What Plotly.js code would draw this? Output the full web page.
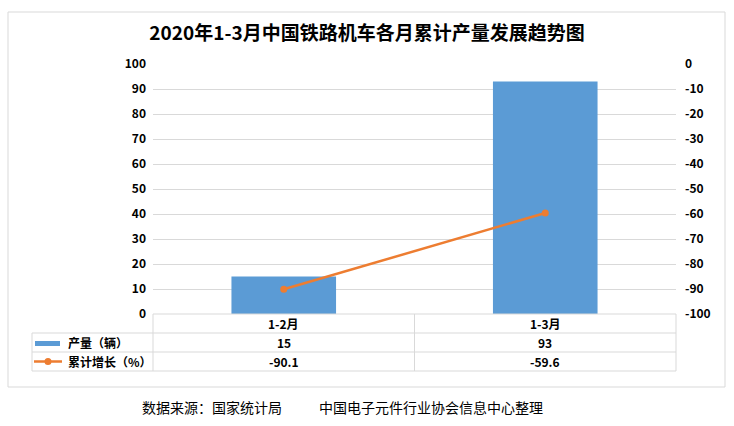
<!DOCTYPE html>
<html>
<head>
<meta charset="utf-8">
<script src="https://cdn.plot.ly/plotly-3.0.1.min.js"></script>
<style>
html,body{margin:0;padding:0;background:#fff;}
#chart{width:734px;height:426px;}
</style>
</head>
<body>
<div id="chart"></div>
<script>
const categories = ['1-2月', '1-3月'];
const outputValues = [15, 93];
const growthValues = [-90.1, -59.6];
const seriesNames = ['产量（辆）', '累计增长（%）'];
const leftTicks = [0, 10, 20, 30, 40, 50, 60, 70, 80, 90, 100];
const rightTicks = [0, -10, -20, -30, -40, -50, -60, -70, -80, -90, -100];
const chartTitle = '2020年1-3月中国铁路机车各月累计产量发展趋势图';
const footerSource = '数据来源：国家统计局';
const footerCredit = '中国电子元件行业协会信息中心整理';

const W = 734, H = 426;
const px = x => x / W;
const py = y => 1 - y / H;
const FONT = '"Noto Sans CJK SC", "Noto Sans", sans-serif';
const GRID = '#d9d9d9';
const BLUE = '#5B9BD5';
const ORANGE = '#ED7D31';

const plotL = 153, plotR = 676, plotT = 64, plotB = 314;
const rowY = [314, 333, 352, 371];
const tableL = 32;

const traces = [
  {
    type: 'bar', x: categories, y: outputValues, name: seriesNames[0],
    marker: {color: BLUE}, yaxis: 'y', hoverinfo: 'none'
  },
  {
    type: 'scatter', mode: 'lines+markers', x: categories, y: growthValues, name: seriesNames[1],
    line: {color: ORANGE, width: 2.5}, marker: {color: ORANGE, size: 7},
    yaxis: 'y2', hoverinfo: 'none'
  }
];

const shapes = [];
const line = (x0, y0, x1, y1, color, w) => shapes.push({
  type: 'line', xref: 'paper', yref: 'paper',
  x0: px(x0), y0: py(y0), x1: px(x1), y1: py(y1),
  line: {color: color || GRID, width: w || 1}
});
// outer border
shapes.push({type: 'rect', xref: 'paper', yref: 'paper', x0: px(8), y0: py(387), x1: px(725), y1: py(12),
  line: {color: GRID, width: 1}});
// table horizontal lines
line(plotL, rowY[0], plotR, rowY[0]);
for (let i = 1; i < rowY.length; i++) line(tableL, rowY[i], plotR, rowY[i]);
// table vertical lines
line(tableL, rowY[1], tableL, rowY[3]);
line(plotL, rowY[0], plotL, rowY[3]);
line((plotL + plotR) / 2, rowY[0], (plotL + plotR) / 2, rowY[3]);
line(plotR, rowY[0], plotR, rowY[3]);
// legend keys
shapes.push({type: 'rect', xref: 'paper', yref: 'paper', x0: px(35), x1: px(60), y0: py(346), y1: py(341),
  fillcolor: BLUE, line: {width: 0}});
line(34, 361.5, 62, 361.5, ORANGE, 2.5);
shapes.push({type: 'circle', xref: 'paper', yref: 'paper', x0: px(44.5), x1: px(51.5), y0: py(365), y1: py(358),
  fillcolor: ORANGE, line: {width: 0}});

const annotations = [];
const bold12 = {family: FONT, size: 12, color: '#000', weight: 'bold'};
const rowCenter = i => py((rowY[i] + rowY[i + 1]) / 2);
categories.forEach((c, i) => {
  annotations.push({x: c, xref: 'x', y: rowCenter(0), yref: 'paper', text: c, showarrow: false,
    font: bold12, xanchor: 'center', yanchor: 'middle'});
  annotations.push({x: c, xref: 'x', y: rowCenter(1), yref: 'paper', text: String(outputValues[i]), showarrow: false,
    font: bold12, xanchor: 'center', yanchor: 'middle'});
  annotations.push({x: c, xref: 'x', y: rowCenter(2), yref: 'paper', text: growthValues[i].toFixed(1), showarrow: false,
    font: bold12, xanchor: 'center', yanchor: 'middle'});
});
seriesNames.forEach((n, i) => {
  annotations.push({x: px(66), xref: 'paper', y: rowCenter(i + 1), yref: 'paper', text: n, showarrow: false,
    font: bold12, xanchor: 'left', yanchor: 'middle'});
});
annotations.push({x: px(140), xref: 'paper', y: py(407), yref: 'paper', text: footerSource, showarrow: false,
  font: {family: FONT, size: 14, color: '#000'}, xanchor: 'left', yanchor: 'middle'});
annotations.push({x: px(317), xref: 'paper', y: py(407), yref: 'paper', text: footerCredit, showarrow: false,
  font: {family: FONT, size: 14, color: '#000'}, xanchor: 'left', yanchor: 'middle'});

const layout = {
  width: W, height: H,
  margin: {l: 0, r: 0, t: 0, b: 0},
  paper_bgcolor: '#fff', plot_bgcolor: '#fff',
  showlegend: false,
  bargap: 0.6,
  title: {text: chartTitle, x: 0.5, xanchor: 'center', y: py(33), yanchor: 'middle', yref: 'paper',
    font: {family: FONT, size: 19, color: '#000', weight: 'bold'}},
  xaxis: {domain: [px(plotL), px(plotR)], type: 'category', showticklabels: false, showgrid: false,
    zeroline: false, showline: false, ticks: '', fixedrange: true},
  yaxis: {domain: [py(plotB), py(plotT)], range: [0, 100], tickmode: 'array',
    tickvals: leftTicks, ticktext: leftTicks.map(String),
    showgrid: true, gridcolor: GRID, gridwidth: 1,
    zeroline: false, showline: false, ticks: '', ticklabelstandoff: 6, tickfont: bold12},
  yaxis2: {domain: [py(plotB), py(plotT)], overlaying: 'y', side: 'right', anchor: 'x', range: [-100, 0],
    tickmode: 'array', tickvals: rightTicks, ticktext: rightTicks.map(String),
    showgrid: false, zeroline: false, showline: false, ticks: '', ticklabelstandoff: 8, tickfont: bold12},
  shapes: shapes,
  annotations: annotations
};

Plotly.newPlot('chart', traces, layout, {displayModeBar: false, staticPlot: true});
</script>
</body>
</html>
